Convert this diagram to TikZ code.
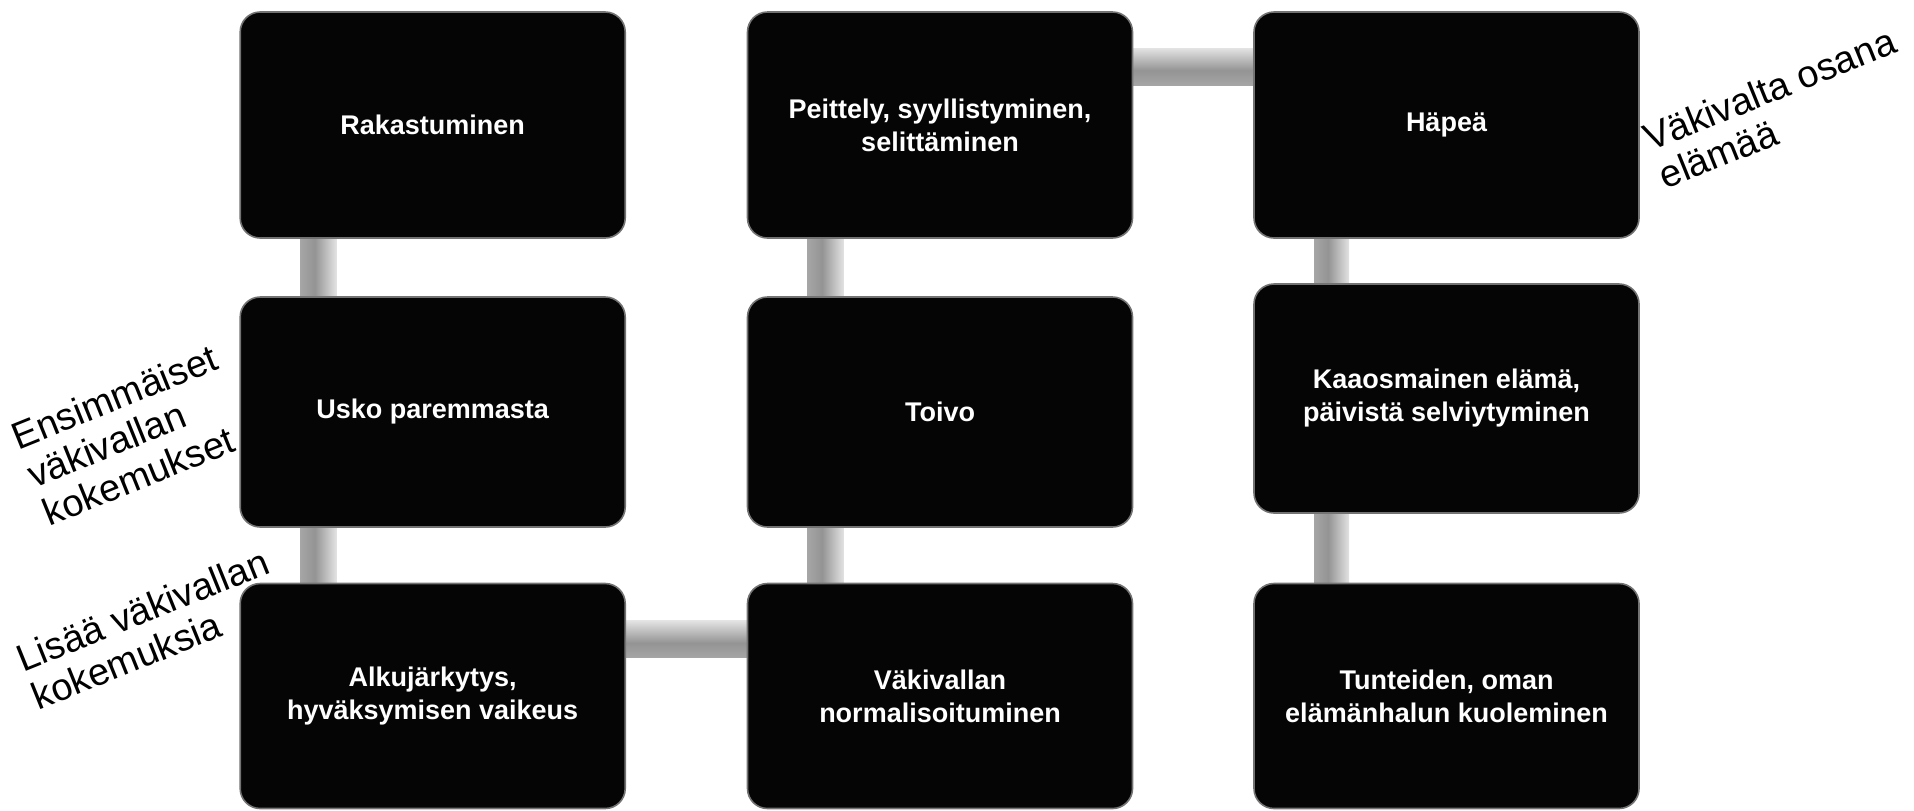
\documentclass[tikz,border=0pt]{standalone}
\usepackage{fontspec}
\setmainfont{Liberation Sans}
\usetikzlibrary{backgrounds}
\pgfdeclarehorizontalshading{tube}{100bp}{color(0bp)=(black!60); color(10bp)=(black!30); color(45bp)=(black!42); color(78bp)=(black!8); color(90bp)=(black!22); color(100bp)=(black!65)}
\tikzset{
  box/.style={rounded corners=10pt, fill=black!98, draw=black!55, line width=0.8pt,
    minimum width=192.5pt, text=white, align=center, inner sep=0pt,
    font=\bfseries\fontsize{13.5}{16.5}\selectfont},
  lbl/.style={align=left, inner sep=0pt, rotate=22, font=\fontsize{19}{20.5}\selectfont},
  vtube/.style={shading=tube},
  htube/.style={shading=tube, shading angle=90}
}
\begin{document}
\begin{tikzpicture}[x=0.5pt,y=-0.5pt]
\useasboundingbox (0,0) rectangle (1914,810);
% column 1
\node[box, minimum height=113pt] (rak) at (432.7,125) {Rakastuminen};
\node[box, minimum height=115pt] (usko) at (432.7,412) {Usko paremmasta};
\node[box, minimum height=112.5pt] (alku) at (432.7,696) {Alkujärkytys,\\hyväksymisen vaikeus};
% column 2
\node[box, minimum height=113pt] (peit) at (940,125) {Peittely, syyllistyminen,\\selittäminen};
\node[box, minimum height=115pt] (toivo) at (940,412) {Toivo};
\node[box, minimum height=112.5pt] (vaek) at (940,696) {Väkivallan\\normalisoituminen};
% column 3
\node[box, minimum height=113pt] (hape) at (1446.5,125) {Häpeä};
\node[box, minimum height=114.5pt] (kaaos) at (1446.5,398.5) {Kaaosmainen elämä,\\päivistä selviytyminen};
\node[box, minimum height=112.5pt] (tunt) at (1446.5,696) {Tunteiden, oman\\elämänhalun kuoleminen};
% connectors
\begin{scope}[on background layer]
\shade[vtube] ([xshift=30.5pt,yshift=4pt]rak.south west) rectangle ([xshift=48.5pt,yshift=-4pt]usko.north west);
\shade[vtube] ([xshift=30.5pt,yshift=4pt]usko.south west) rectangle ([xshift=48.5pt,yshift=-4pt]alku.north west);
\shade[htube] ([xshift=-4pt,yshift=-19pt]alku.north east) rectangle ([xshift=4pt,yshift=-37.5pt]vaek.north west);
\shade[vtube] ([xshift=30.5pt,yshift=-4pt]vaek.north west) rectangle ([xshift=48.5pt,yshift=4pt]toivo.south west);
\shade[vtube] ([xshift=30.5pt,yshift=-4pt]toivo.north west) rectangle ([xshift=48.5pt,yshift=4pt]peit.south west);
\shade[htube] ([xshift=-4pt,yshift=-18.5pt]peit.north east) rectangle ([xshift=4pt,yshift=-37pt]hape.north west);
\shade[vtube] ([xshift=30.5pt,yshift=4pt]hape.south west) rectangle ([xshift=48pt,yshift=-4pt]kaaos.north west);
\shade[vtube] ([xshift=30.5pt,yshift=4pt]kaaos.south west) rectangle ([xshift=48pt,yshift=-4pt]tunt.north west);
\end{scope}
% side labels
\node[lbl] (l1) at (130,435) {Ensimmäiset\\väkivallan\\kokemukset};
\node[lbl] (l2) at (150,629) {Lisää väkivallan\\kokemuksia};
\node[lbl] (l3) at (1777,108) {Väkivalta osana\\elämää};
\end{tikzpicture}
\end{document}
